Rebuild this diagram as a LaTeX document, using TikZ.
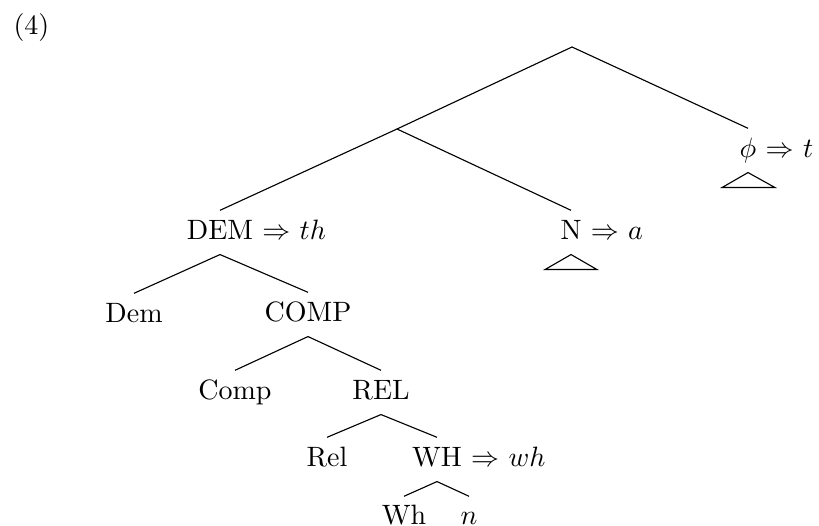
\documentclass[tikz,border=0pt]{standalone}
\usepackage{amsmath}
\usepackage{amssymb}
\usepackage{tikz}
\tikzset{kat/.style={inner sep=0pt,text height=10.4pt,text depth=5pt,anchor=base}}

\begin{document}
\begin{tikzpicture}[x=0.3571pt,y=-0.3571pt]
\useasboundingbox (0,0) rectangle (819,526);
\node[anchor=base west,inner sep=0pt] (no) at (13,35) {(4)};
\coordinate (kok) at (572,47);
\coordinate (ara) at (397,129);
\node[kat] (phi) at (748,158) {$\phi$\rlap{\ $\Rightarrow$\ $t$}};
\node[kat] (dem) at (220,240) {DEM\rlap{\ $\Rightarrow$\ $th$}};
\node[kat] (isim) at (571,240) {N\rlap{\ $\Rightarrow$\ $a$}};
\node[kat] (demalt) at (134,323) {Dem};
\node[kat] (comp) at (308,322) {COMP};
\node[kat] (compalt) at (235,400) {Comp};
\node[kat] (rel) at (381,400) {REL};
\node[kat] (relalt) at (327,467) {Rel};
\node[kat] (wh) at (437,467) {WH\rlap{\ $\Rightarrow$\ $wh$}};
\node[kat,text height=9.7pt] (whalt) at (404,524) {Wh};
\node[kat,text height=9.7pt] (nalt) at (469,524) {$n$};
\draw (kok)--(ara);
\draw (kok)--(phi.north);
\draw (ara)--(dem.north);
\draw (ara)--(isim.north);
\draw (dem.south)--(demalt.north);
\draw (dem.south)--(comp.north);
\draw (comp.south)--(compalt.north);
\draw (comp.south)--(rel.north);
\draw (rel.south)--(relalt.north);
\draw (rel.south)--(wh.north);
\draw (wh.south)--(whalt.north);
\draw (wh.south)--(nalt.north);
\draw (phi.south)--++(-26,15)--++(53,0)--cycle;
\draw (isim.south)--++(-26,15)--++(52,0)--cycle;
\end{tikzpicture}
\end{document}
